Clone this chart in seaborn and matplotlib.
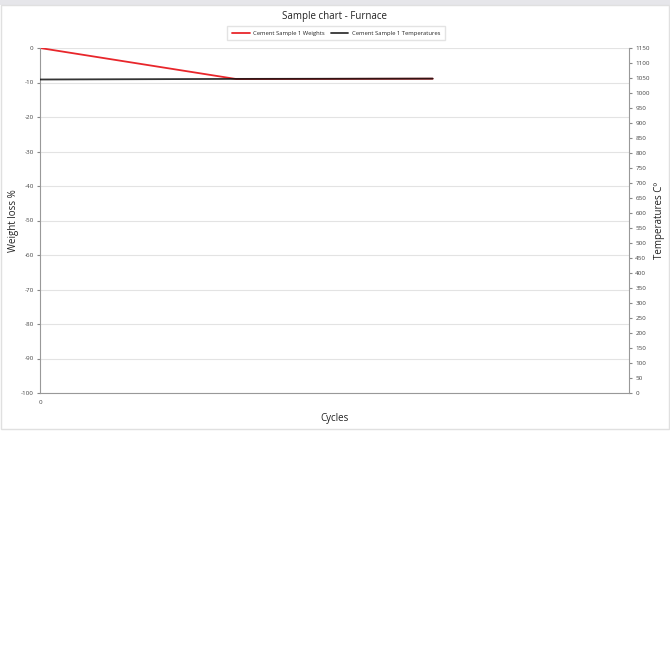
import numpy as np
import pandas as pd
import matplotlib
matplotlib.use("Agg")
import matplotlib.pyplot as plt
import seaborn as sns
from matplotlib.patches import Rectangle

# data
cycles = [0, 1, 2]
weights = [0.0, -9.0, -8.9]
temperatures = [1045, 1047, 1048]

weight_ticks = list(range(-100, 1, 10))
temp_ticks = list(range(0, 1151, 50))

sns.set_style("white")
plt.rcParams["font.family"] = ["Open Sans", "DejaVu Sans"]
plt.rcParams["axes.unicode_minus"] = False

df = pd.DataFrame({"cycle": cycles, "weight": weights, "temp": temperatures})

fig = plt.figure(figsize=(6.7, 6.7), dpi=100)
# grey strip at the very top and the light panel frame
fig.patches.append(Rectangle((0, 1 - 5 / 670), 1, 5 / 670, transform=fig.transFigure,
                             facecolor="#e6e6ea", edgecolor="none", zorder=0))
fig.patches.append(Rectangle((1 / 670, 1 - 429 / 670), 668 / 670, 424 / 670,
                             transform=fig.transFigure, facecolor="none",
                             edgecolor="#e0e0e0", linewidth=1, zorder=0))

ax = fig.add_axes([40 / 670, 1 - 393 / 670, 589 / 670, 345 / 670])
ax2 = ax.twinx()

sns.lineplot(data=df, x="cycle", y="weight", ax=ax, color="#e8262b", linewidth=1.3,
             label="Cement Sample 1 Weights", legend=False)
sns.lineplot(data=df, x="cycle", y="temp", ax=ax2, color="#111111", linewidth=1.3,
             alpha=0.85, label="Cement Sample 1 Temperatures", legend=False)

ax.set_xlim(0, 3)
ax.set_ylim(-100, 0)
ax2.set_ylim(0, 1150)
ax.set_xticks([0])
ax.set_yticks(weight_ticks)
ax2.set_yticks(temp_ticks)

ax.grid(axis="y", color="#e3e3e3", linewidth=0.8)
ax.set_axisbelow(True)

for a in (ax, ax2):
    for s in a.spines.values():
        s.set_visible(False)
    a.tick_params(labelsize=4.5, labelcolor="#444444", colors="#888888",
                  length=2.5, width=0.8, direction="out", pad=2)
ax.spines["left"].set_visible(True)
ax.spines["left"].set_color("#999999")
ax.spines["bottom"].set_visible(True)
ax.spines["bottom"].set_color("#999999")
ax2.spines["right"].set_visible(True)
ax2.spines["right"].set_color("#999999")
ax.tick_params(axis="x", length=0, pad=5)
ax.yaxis.set_ticks_position("left")
ax2.yaxis.set_ticks_position("right")

ax.set_xlabel("Cycles", fontsize=7, color="#222222")
ax.set_ylabel("Weight loss %", fontsize=7, color="#222222")
ax2.set_ylabel("Temperatures C\u00ba", fontsize=7, color="#222222")
ax.xaxis.set_label_coords(0.5, -20 / 345)
ax.yaxis.set_label_coords(-21 / 589, 0.5)
ax2.yaxis.set_label_coords(1 + 25 / 589, 0.5)

fig.text(335 / 670, 1 - 16 / 670, "Sample chart - Furnace", ha="center", va="center",
         fontsize=7, color="#222222")

h1, l1 = ax.get_legend_handles_labels()
h2, l2 = ax2.get_legend_handles_labels()
fig.legend(h1 + h2, l1 + l2, loc="center", bbox_to_anchor=(336 / 670, 1 - 33 / 670),
           ncol=2, fontsize=4.2, frameon=True, edgecolor="#dddddd", fancybox=False,
           handlelength=3, columnspacing=1.0, borderpad=0.8, handletextpad=0.6)

fig.savefig("out.png", dpi=100, facecolor="white")
